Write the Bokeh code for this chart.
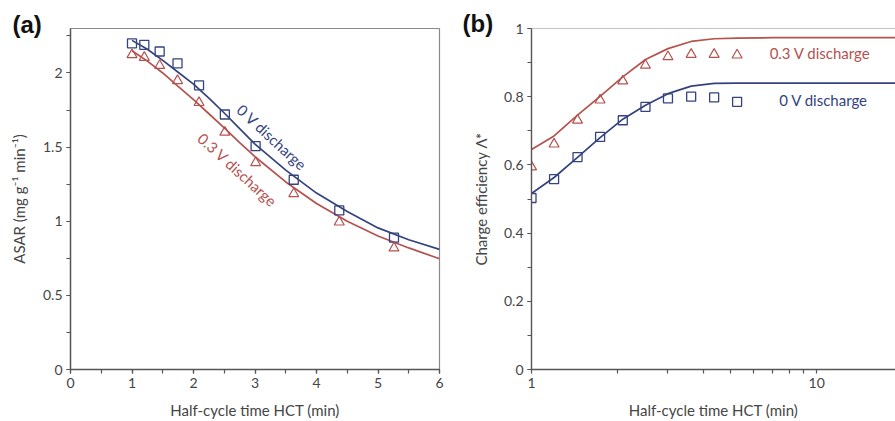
from bokeh.plotting import figure
from bokeh.layouts import row
from bokeh.models import SingleIntervalTicker, FixedTicker, NumeralTickFormatter, Label, Span
from bokeh.embed import file_html
from bokeh.resources import INLINE

# ---------------- data ----------------
HCT = [1.0, 1.2, 1.45, 1.74, 2.09, 2.51, 3.01, 3.63, 4.37, 5.26]

ASAR_0V = [2.20, 2.19, 2.145, 2.065, 1.917, 1.72, 1.506, 1.28, 1.073, 0.889]
ASAR_03V = [2.123, 2.105, 2.05, 1.948, 1.80, 1.60, 1.394, 1.185, 0.994, 0.819]

FIT_X_A = [1.0, 1.25, 1.5, 1.75, 2.0, 2.25, 2.5, 2.75, 3.0, 3.5, 4.0, 4.5, 5.0, 5.5, 6.0]
FIT_ASAR_0V = [2.22, 2.16, 2.085, 2.005, 1.925, 1.83, 1.73, 1.625, 1.52, 1.345, 1.19, 1.065, 0.955, 0.875, 0.81]
FIT_ASAR_03V = [2.15, 2.08, 2.0, 1.91, 1.82, 1.725, 1.63, 1.53, 1.435, 1.265, 1.12, 1.0, 0.9, 0.82, 0.747]

EFF_0V = [0.503, 0.558, 0.623, 0.682, 0.731, 0.770, 0.795, 0.800, 0.798, 0.785]
EFF_03V = [0.594, 0.661, 0.731, 0.790, 0.846, 0.892, 0.917, 0.924, 0.924, 0.922]

FIT_X_B = [1.0, 1.2, 1.45, 1.74, 2.09, 2.51, 3.01, 3.63, 4.37, 5.26, 7.0, 10.0, 20.0]
FIT_EFF_0V = [0.516, 0.563, 0.622, 0.680, 0.734, 0.775, 0.809, 0.831, 0.839, 0.840, 0.840, 0.840, 0.840]
FIT_EFF_03V = [0.645, 0.685, 0.746, 0.801, 0.858, 0.909, 0.941, 0.962, 0.970, 0.972, 0.973, 0.973, 0.973]

PANEL_A = "(a)"
PANEL_B = "(b)"
LABEL_0V = "0 V discharge"
LABEL_03V = "0.3 V discharge"
X_TITLE = "Half-cycle time HCT (min)"
Y_TITLE_A = "ASAR (mg g\u207b\u00b9 min\u207b\u00b9)"
Y_TITLE_B = "Charge efficiency \u039b*"

# ---------------- style ----------------
BLUE = "#34437f"
RED = "#b5524e"
AX = "#555555"
TXT = "#454545"
FONT = "Lato"


def style(p, offset, valign):
    p.grid.visible = False
    p.background_fill_color = "white"
    p.border_fill_color = "white"
    p.title.align = "left"
    p.title.vertical_align = valign
    p.title.offset = offset
    p.title.standoff = -20
    p.title.text_font = "Liberation Sans"
    p.title.text_font_style = "bold"
    p.title.text_font_size = "24px"
    p.title.text_color = "#111111"
    for ax in p.axis:
        ax.axis_line_color = AX
        ax.axis_line_width = 1.4
        ax.major_tick_line_color = AX
        ax.minor_tick_line_color = AX
        ax.major_tick_line_width = 1.2
        ax.minor_tick_line_width = 1.2
        ax.major_tick_in = 0
        ax.major_tick_out = 4
        ax.minor_tick_in = 0
        ax.minor_tick_out = 4
        ax.major_label_standoff = 4
        ax.major_label_text_font = FONT
        ax.major_label_text_font_size = "14px"
        ax.major_label_text_color = TXT
        ax.axis_label_text_font = FONT
        ax.axis_label_text_font_size = "15px"
        ax.axis_label_text_font_style = "normal"
        ax.axis_label_text_color = TXT


# ---------------- panel (a) ----------------
pa = figure(width=453, height=421, x_range=(0, 6), y_range=(0, 2.3), title=PANEL_A,
            output_backend="svg", toolbar_location=None,
            min_border_left=70, min_border_right=14, min_border_top=28, min_border_bottom=52)
style(pa, -58, "middle")
pa.outline_line_color = "#8a8a8a"
pa.outline_line_width = 1.2
pa.xaxis.ticker = SingleIntervalTicker(interval=1, num_minor_ticks=2)
pa.yaxis.ticker = SingleIntervalTicker(interval=0.5, num_minor_ticks=2)
pa.yaxis.formatter = NumeralTickFormatter(format="0.[0]")
pa.xaxis.axis_label = X_TITLE
pa.yaxis.axis_label = Y_TITLE_A
pa.xaxis.axis_label_standoff = 10
pa.yaxis.axis_label_standoff = 12

pa.line(FIT_X_A, FIT_ASAR_0V, line_color=BLUE, line_width=1.7)
pa.line(FIT_X_A, FIT_ASAR_03V, line_color=RED, line_width=1.7)
pa.scatter(HCT, ASAR_0V, marker="square", size=9, fill_color=None, line_color=BLUE, line_width=1.3)
pa.scatter(HCT, ASAR_03V, marker="triangle", size=10, fill_color=None, line_color=RED, line_width=1.2)

pa.add_layout(Label(x=3.28, y=1.566, text=LABEL_0V, angle=-0.747, text_align="center",
                    text_baseline="middle", text_font=FONT, text_font_size="15px", text_color=BLUE))
pa.add_layout(Label(x=2.72, y=1.347, text=LABEL_03V, angle=-0.738, text_align="center",
                    text_baseline="middle", text_font=FONT, text_font_size="15px", text_color=RED))

# ---------------- panel (b) ----------------
pb = figure(width=442, height=421, x_axis_type="log", x_range=(1, 18.9), y_range=(0, 1), title=PANEL_B,
            output_backend="svg", toolbar_location=None,
            min_border_left=78, min_border_right=0, min_border_top=28, min_border_bottom=52)
style(pb, -69, "top")
pb.outline_line_color = None
pb.add_layout(Span(location=1, dimension="width", line_color="#8a8a8a", line_width=1.2))
pb.xaxis.ticker = FixedTicker(ticks=[1, 10], minor_ticks=[2, 3, 4, 5, 6, 7, 8, 9])
pb.xaxis.formatter = NumeralTickFormatter(format="0")
pb.yaxis.ticker = SingleIntervalTicker(interval=0.2, num_minor_ticks=2)
pb.yaxis.formatter = NumeralTickFormatter(format="0.[0]")
pb.xaxis.axis_label = X_TITLE
pb.yaxis.axis_label = Y_TITLE_B
pb.xaxis.axis_label_standoff = 10
pb.yaxis.axis_label_standoff = 11

pb.line(FIT_X_B, FIT_EFF_0V, line_color=BLUE, line_width=1.7)
pb.line(FIT_X_B, FIT_EFF_03V, line_color=RED, line_width=1.7)
pb.scatter(HCT, EFF_0V, marker="square", size=9, fill_color=None, line_color=BLUE, line_width=1.3)
pb.scatter(HCT, EFF_03V, marker="triangle", size=10, fill_color=None, line_color=RED, line_width=1.2)

pb.add_layout(Label(x=10.29, y=0.927, text=LABEL_03V, text_align="center", text_baseline="middle",
                    text_font=FONT, text_font_size="15px", text_color=RED))
pb.add_layout(Label(x=10.58, y=0.790, text=LABEL_0V, text_align="center", text_baseline="middle",
                    text_font=FONT, text_font_size="15px", text_color=BLUE))

layout = row(pa, pb)
open("out.html", "w").write(file_html(layout, INLINE))
